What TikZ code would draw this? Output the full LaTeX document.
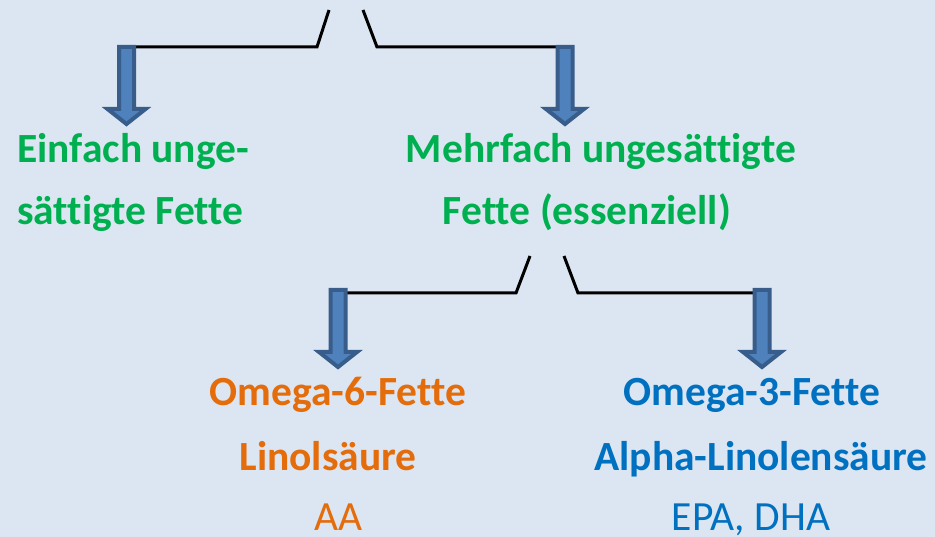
\documentclass[tikz,border=0pt]{standalone}
\usepackage{fontspec}
\setmainfont{Carlito}[Ligatures={NoCommon}]
\usepackage{tikz}
\definecolor{bgblue}{HTML}{DCE6F2}
\definecolor{fatgreen}{HTML}{00B050}
\definecolor{fatorange}{HTML}{E46C0A}
\definecolor{fatblue}{HTML}{0070C0}
\definecolor{arrowfill}{HTML}{4F81BD}
\definecolor{arrowline}{HTML}{385D8A}
\tikzstyle{fat}=[inner sep=0pt, anchor=base, font=\bfseries\fontsize{41.5}{47}\selectfont]
\tikzstyle{gfat}=[fat, text=fatgreen]
\tikzstyle{ofat}=[fat, text=fatorange]
\tikzstyle{bfat}=[fat, text=fatblue]
\tikzstyle{thin}=[inner sep=0pt, anchor=base, font=\fontsize{41.5}{47}\selectfont]
\tikzstyle{bracket}=[draw=black, line width=3pt]
\tikzstyle{blockarrow}=[fill=arrowfill, draw=arrowline, line width=4pt, miter limit=4]
% block arrow pointing down, #1 = top centre of the shaft
\newcommand{\fatarrow}[1]{
    \draw[blockarrow] (#1) ++(-7.5,2) -- ++(15,0) -- ++(0,62) -- ++(11.5,0)
        -- ++(-19,15) -- ++(-19,-15) -- ++(11.5,0) -- cycle;
}

\begin{document}
\begin{tikzpicture}[x=1pt, y=-1pt]
        \fill[bgblue] (0,0) rectangle (935,537);
        \useasboundingbox (0,0) rectangle (935,537);

        % first split
        \coordinate (S1l) at (329,10);
        \coordinate (S1r) at (363,10);
        \coordinate (A1) at (126.5,45);
        \coordinate (A2) at (565,45);
        \draw[bracket] (A1 |- 0,47) -- (317,47) -- (S1l);
        \draw[bracket] (S1r) -- (377,47) -- (A2 |- 0,47);
        \fatarrow{A1}
        \fatarrow{A2}

        \node[gfat, anchor=base west] (ein1) at (17,163) {Einfach unge-};
        \node[gfat, anchor=base west] (ein2) at (17,225) {sättigte Fette};
        \node[gfat] (mehr1) at (601,163) {Mehrfach ungesättigte};
        \node[gfat] (mehr2) at (587,225) {Fette (essenziell)};

        % second split
        \coordinate (S2l) at (530,256);
        \coordinate (S2r) at (564,256);
        \coordinate (A3) at (338,288);
        \coordinate (A4) at (762,288);
        \draw[bracket] (A3 |- 0,293) -- (516,293) -- (S2l);
        \draw[bracket] (S2r) -- (578,293) -- (A4 |- 0,293);
        \fatarrow{A3}
        \fatarrow{A4}

        \node[ofat] (om6) at (338,406) {Omega-6-Fette};
        \node[ofat] (lino) at (328,470) {Linolsäure};
        \node[thin, text=fatorange] (aa) at (338.5,530) {AA};
        \node[bfat] (om3) at (752,406) {Omega-3-Fette};
        \node[bfat] (alpha) at (761,470) {Alpha-Linolensäure};
        \node[thin, text=fatblue] (epa) at (751,530) {EPA, DHA};
    \end{tikzpicture}
\end{document}
